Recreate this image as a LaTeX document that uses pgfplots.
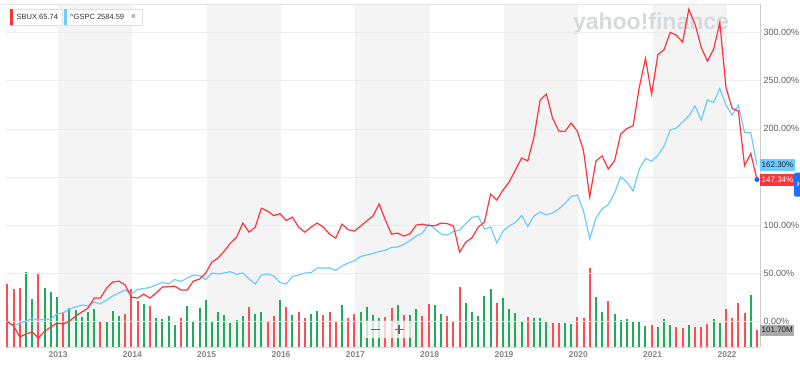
\documentclass[border=0pt]{standalone}
\usepackage{pgfplots}
\pgfplotsset{compat=1.18}
\usepackage{pgfplotstable}
\usepackage{fontspec}
\setmainfont{Liberation Sans}
\definecolor{sbuxred}{HTML}{FF333A}
\definecolor{gspcblue}{HTML}{6CCBFF}
\definecolor{volred}{HTML}{FF4B52}
\definecolor{volgreen}{HTML}{1FAA5C}
\definecolor{band}{HTML}{F4F4F4}
\definecolor{gridc}{HTML}{EDEDED}
\definecolor{labc}{HTML}{5B636A}
\definecolor{xlabc}{HTML}{858585}
\definecolor{dotblue}{HTML}{0F69FF}
\definecolor{wm}{HTML}{D6D9DD}
\definecolor{legtext}{HTML}{333333}

% i = month index (May 2012 = 0), s = SBUX % change, g = S&P 500 % change,
% vr / vg = SBUX monthly volume (millions) on down / up months
\pgfplotstableread{
i s g vr vg
0 0 0 369.8 nan
1 -4.6 -4.6 340.5 nan
2 -16.0 -1.5 346.4 nan
3 -12.9 0.6 nan 438.3
4 -10.8 3.2 nan 283.8
5 -17.1 1.7 430.5 nan
6 -9.8 2.2 nan 346.4
7 -5.7 2.7 nan 320.9
8 -1.6 7.9 nan 295.5
9 -2.6 8.9 203.5 nan
10 0.5 13.1 nan 229.0
11 5.7 15.1 nan 219.2
12 9.9 17.2 nan 174.2
13 14.0 16.2 nan 207.4
14 24.4 20.3 nan 225.1
15 24.4 18.3 150.7 nan
16 34.8 22.4 nan 154.6
17 41.0 26.6 nan 213.3
18 42.0 29.7 nan 182.0
19 37.9 32.8 195.7 nan
20 25.4 28.6 340.5 nan
21 24.4 33.3 268.1 nan
22 28.5 34.3 nan 252.5
23 24.4 35.4 238.8 nan
24 29.6 38.0 nan 172.2
25 35.8 40.6 nan 162.4
26 36.3 39.0 nan 180.0
27 36.8 43.7 nan 129.2
28 32.7 41.6 172.2 nan
29 32.7 45.2 nan 242.7
30 42.0 48.3 nan 146.8
31 44.1 47.8 nan 230.9
32 50.3 43.7 nan 277.9
33 61.7 50.4 nan 154.6
34 65.9 49.4 nan 205.5
35 73.1 50.4 nan 185.9
36 81.4 51.8 nan 140.9
37 87.6 48.9 nan 158.5
38 102.2 50.4 nan 184.0
39 92.8 44.2 234.8 nan
40 98.0 39.0 nan 195.7
41 117.7 48.3 nan 203.5
42 114.6 49.4 148.7 nan
43 109.9 47.3 180.0 nan
44 112.0 40.6 nan 274.0
45 104.8 39.0 234.8 nan
46 108.4 46.8 nan 187.9
47 98.0 48.3 207.4 nan
48 92.8 50.4 172.2 nan
49 98.0 50.7 nan 195.7
50 102.2 55.6 nan 213.3
51 98.0 55.6 187.9 nan
52 90.7 55.8 203.5 nan
53 86.6 53.0 154.6 nan
54 101.1 57.7 nan 246.6
55 95.4 60.8 172.2 nan
56 93.9 62.9 195.7 nan
57 99.1 67.5 nan 205.5
58 104.3 69.1 nan 234.8
59 109.5 70.6 nan 187.9
60 122.0 72.7 nan 168.3
61 105.4 74.0 178.1 nan
62 90.7 76.9 230.9 nan
63 91.8 77.4 nan 246.6
64 88.7 80.0 189.8 nan
65 91.3 84.1 nan 185.9
66 100.1 88.8 nan 223.1
67 101.1 91.9 184.0 nan
68 99.6 101.2 252.5 nan
69 99.4 96.1 nan 248.5
70 102.2 90.9 nan 193.7
71 101.7 89.8 184.0 nan
72 99.1 93.5 154.6 nan
73 72.1 95.0 354.2 nan
74 82.5 101.8 nan 256.4
75 87.1 108.0 nan 205.5
76 98.0 109.5 nan 184.0
77 103.2 96.1 nan 299.4
78 132.3 98.1 nan 340.5
79 126.1 81.5 260.3 nan
80 136.5 94.0 nan 287.7
81 144.8 99.2 nan 223.1
82 157.2 102.8 nan 201.6
83 169.7 110.1 nan 150.7
84 166.6 98.7 174.2 nan
85 191.5 109.5 nan 168.3
86 229.9 113.7 nan 170.3
87 236.1 110.6 nan 146.8
88 211.2 112.7 138.9 nan
89 197.7 116.8 142.9 nan
90 197.2 122.5 nan 142.9
91 205.9 129.8 nan 137.0
92 197.7 131.3 174.2 nan
93 177.0 114.7 172.2 nan
94 129.3 85.7 463.8 nan
95 166.6 107.5 nan 295.5
96 171.8 116.8 nan 207.4
97 158.3 121.5 270.1 nan
98 166.6 133.4 nan 193.7
99 194.6 150.0 nan 160.5
100 200.3 144.8 nan 166.3
101 203.1 135.5 nan 150.7
102 243.0 158.3 nan 146.8
103 273.0 169.2 nan 123.3
104 236.0 166.5 127.2 nan
105 277.0 172.3 nan 117.4
106 282.0 182.2 nan 166.3
107 300.0 198.8 nan 131.1
108 297.0 200.8 117.4 nan
109 290.0 207.1 109.6 nan
110 324.0 213.3 nan 127.2
111 308.7 223.7 117.4 nan
112 284.5 209.1 117.4 nan
113 270.3 229.9 137.0 nan
114 282.5 227.3 nan 166.3
115 310.0 241.8 nan 138.9
116 243.0 224.6 225.1 nan
117 221.0 214.2 168.3 nan
118 218.5 224.6 260.3 nan
119 161.7 196.1 201.6 nan
120 174.5 195.9 nan 303.3
121 147.34 162.30 101.7 nan
}\data

\pgfplotsset{base/.style={scale only axis, width=754pt, height=343pt,
  at={(6pt,19pt)}, anchor=south west, xmin=2012.30, xmax=2022.444}}

\begin{document}
\begin{tikzpicture}
\path[use as bounding box] (0,0) rectangle (800pt,366pt);

% background bands
\begin{axis}[base, hide axis, ymin=0, ymax=1]
\fill[band] (axis cs:2013,0) rectangle (axis cs:2014,1);
\fill[band] (axis cs:2015,0) rectangle (axis cs:2016,1);
\fill[band] (axis cs:2017,0) rectangle (axis cs:2018,1);
\fill[band] (axis cs:2019,0) rectangle (axis cs:2020,1);
\fill[band] (axis cs:2021,0) rectangle (axis cs:2022,1);
\end{axis}

% watermark
\node[text=wm, font=\fontsize{23}{25}\selectfont\bfseries] at (651pt,342pt) {yahoo!finance};

% volume bars
\begin{axis}[base, hide axis, ymin=0, ymax=2013]
\addplot[ycomb, volred, line width=2pt, mark=none] table[x expr=2012.32+\thisrow{i}/12, y=vr]{\data};
\addplot[ycomb, volgreen, line width=2pt, mark=none] table[x expr=2012.32+\thisrow{i}/12, y=vg]{\data};
\coordinate (volend) at (axis cs:2022.444,101.7);
\end{axis}

% price lines
\begin{axis}[base, ymin=-26.35, ymax=329.5,
  axis x line*=bottom, axis y line*=right,
  x axis line style={draw=black!14, -},
  y axis line style={draw=black!20, -},
  xtick={2013,2014,2015,2016,2017,2018,2019,2020,2021,2022},
  xticklabels={2013,2014,2015,2016,2017,2018,2019,2020,2021,2022},
  x tick label style={font=\fontsize{8.5}{10}\selectfont\bfseries, text=xlabc, yshift=-1pt},
  ytick={0,50,100,150,200,250,300},
  yticklabels={0.00\%,50.00\%,100.00\%,,200.00\%,250.00\%,300.00\%},
  y tick label style={font=\fontsize{9}{10}\selectfont, text=labc},
  ymajorgrids, grid style={draw=gridc, line width=0.6pt},
  major tick length=0pt,
  clip=false,
  /pgf/number format/assume math mode=true,
]
\draw[black!10, line width=0.6pt] (rel axis cs:-0.01,1) -- (rel axis cs:1,1);
\addplot[gspcblue, line width=1.2pt, mark=none] table[x expr=2012.32+\thisrow{i}/12, y=g]{\data};
\addplot[sbuxred, line width=1.2pt, mark=none] table[x expr=2012.32+\thisrow{i}/12, y=s]{\data};
\addplot[only marks, mark=*, mark size=2.2pt, dotblue] coordinates {(2022.403,147.34)};
\coordinate (gsend) at (axis cs:2022.444,162.30);
\coordinate (sbend) at (axis cs:2022.444,147.34);
\end{axis}

% value badges
\node[fill=gspcblue, text=black!85, anchor=west, inner xsep=1.5pt, inner ysep=0pt,
  minimum height=12pt, font=\fontsize{8}{9}\selectfont] at (gsend) {162.30\%};
\node[fill=sbuxred, text=white, anchor=west, inner xsep=1.5pt, inner ysep=0pt,
  minimum height=12pt, font=\fontsize{8}{9}\selectfont] at (sbend) {147.34\%};
\node[fill=black!33, text=black!85, anchor=west, inner xsep=1.5pt, inner ysep=0pt,
  minimum height=11pt, font=\fontsize{8}{9}\selectfont] at ([yshift=-0.5pt]volend) {101.70M};
\fill[dotblue!95, rounded corners=2pt] (794pt,169.3pt) rectangle (808pt,193.3pt);
\draw[white, line width=0.8pt] (797.3pt,184.2pt) -- (798.8pt,182.2pt) -- (797.3pt,180.2pt);

% legend chips
\fill[white] (10pt,341pt) rectangle (62pt,357pt);
\draw[black!12, line width=0.4pt] (10pt,341pt) rectangle (62pt,357pt);
\fill[sbuxred] (10pt,341pt) rectangle (12.5pt,357pt);
\node[anchor=west, inner sep=0pt, text=legtext, font=\fontsize{7.5}{9}\selectfont] at (16.5pt,349.3pt) {SBUX 65.74};
\fill[white] (64pt,341pt) rectangle (142pt,357pt);
\draw[black!12, line width=0.4pt] (64pt,341pt) rectangle (142pt,357pt);
\fill[gspcblue] (64pt,341pt) rectangle (66.5pt,357pt);
\node[anchor=west, inner sep=0pt, text=legtext, font=\fontsize{7.5}{9}\selectfont] at (70pt,349.3pt) {\textasciicircum GSPC 2584.59};
\node[inner sep=0pt, text=black!60, font=\fontsize{9}{9}\selectfont] at (133.5pt,349.3pt) {×};

% zoom control
\fill[white, opacity=0.75, rounded corners=2pt] (363pt,28pt) rectangle (411pt,45pt);
\draw[black!10, rounded corners=2pt] (363pt,28pt) rectangle (411pt,45pt);
\draw[black!60, line width=1.3pt] (370.5pt,36.5pt) -- (379.5pt,36.5pt);
\draw[black!60, line width=1.3pt] (394.5pt,36.5pt) -- (403.5pt,36.5pt);
\draw[black!60, line width=1.3pt] (399pt,32pt) -- (399pt,41pt);
\end{tikzpicture}
\end{document}
